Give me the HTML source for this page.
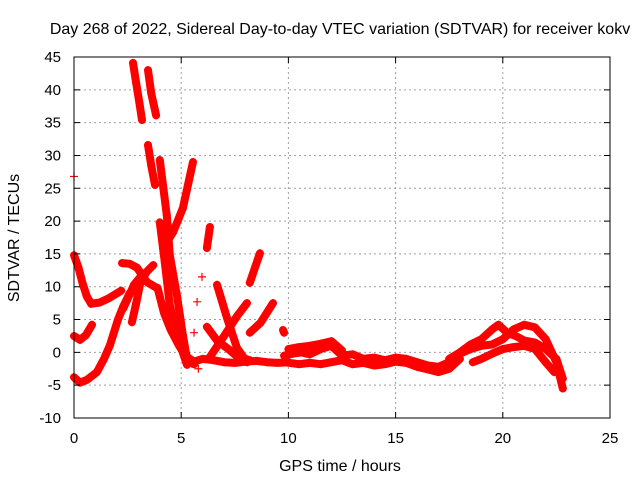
<!DOCTYPE html>
<html><head><meta charset="utf-8"><style>
body{margin:0;background:#fff;}
svg{display:block;font-family:"Liberation Sans",sans-serif;}
</style></head><body>
<svg id="chart" width="640" height="480" viewBox="0 0 640 480">
<rect width="640" height="480" fill="#fff"/>
<text x="340" y="34" font-size="16" text-anchor="middle">Day 268 of 2022, Sidereal Day-to-day VTEC variation (SDTVAR) for receiver kokv</text>
<text x="340" y="471" font-size="16" text-anchor="middle">GPS time / hours</text>
<text transform="translate(19,238) rotate(-90)" font-size="16" text-anchor="middle">SDTVAR / TECUs</text>
<g id="grid"></g><g id="marks"></g><g id="axes"></g>
</svg>
<script>
const xTicks=[0,5,10,15,20,25];
const yTicks=[-10,-5,0,5,10,15,20,25,30,35,40,45];
const aX=[0,0.2,0.4,0.6,0.8,1.2,1.6,2.0,2.2];
const aY=[14.8,13,10.5,8.5,7.4,7.6,8.2,9,9.4];
const bX=[0,0.28,0.55,0.84];
const bY=[2.5,1.9,2.6,4.2];
const cX=[0,0.28,0.6,1.07,1.4,1.68,2.05,2.3,2.6];
const cY=[-3.8,-4.6,-4.2,-3,-1,1.1,5,7,9];
const dX=[2.24,2.6,2.94,3.4,3.87];
const dY=[13.6,13.5,12.9,10.7,9.8];
const eX=[2.7,2.9,3.1,3.4,3.7];
const eY=[4.6,7.5,10.7,12.3,13.3];
const fX=[2.3,2.55,2.8,3.1];
const fY=[6.7,8.5,10.3,11.5];
const g1X=[2.75,2.9,3.05,3.17];
const g1Y=[44.1,41,38,35.4];
const g2X=[3.45,3.6,3.83];
const g2Y=[43,39.5,36.1];
const hX=[3.45,3.6,3.78];
const hY=[31.6,28.5,25.5];
const iX=[4.0,4.33,4.47,4.8,5.08,5.3,5.6];
const iY=[29.3,20.9,14.8,8.7,2.6,-1.5,-1.8];
const jX=[4.0,4.24,4.47,4.8,5.27];
const jY=[19.8,13.6,7.2,2.6,-1.9];
const j2X=[3.9,4.2,4.5,4.9,5.2,5.5];
const j2Y=[9.8,6,3.5,1,-0.5,-1.2];
const kX=[4.15,4.62,5.08,5.55];
const kY=[15.9,18.3,22,29];
const lX=[6.2,6.34];
const lY=[15.9,19.1];
const mX=[6.67,7.14,7.6,8.07];
const mY=[10.3,5.2,0.7,-1.5];
const nX=[6.2,6.67,7.2,7.6,8.2];
const nY=[3.9,1.8,0.5,-0.6,-1.2];
const oX=[6.34,7.0,7.6,8.07];
const oY=[-0.7,2.5,5.5,7.5];
const pX=[8.2,8.7,9.28];
const pY=[3,4.5,7.5];
const qX=[8.2,8.45,8.67];
const qY=[10.6,13,15.1];
const rX=[9.75,9.8];
const rY=[3.4,3];
const s1X=[5.5,6,6.5,7,7.5,8,8.5,9,9.5,10];
const s1Y=[-1.5,-1,-1.2,-1.5,-1.6,-1.4,-1.3,-1.5,-1.6,-1.5];
const s2X=[9.8,10.2,10.6,11,11.5,12,12.5,13,13.5,14,14.5,15,15.5,16,16.5,17,17.5];
const s2Y=[-0.5,-0.2,0,-0.3,0.5,1,-0.5,-0.3,-1,-0.8,-1.2,-0.8,-1,-1.5,-2,-2.2,-1.5];
const s3X=[9.8,10.5,11,11.5,12,12.5,13,13.5,14,14.5,15,15.5,16,16.5,17,17.5,18];
const s3Y=[-1.5,-1.8,-1.6,-1.8,-1.5,-1.2,-1.8,-1.6,-2,-1.8,-1.4,-1.6,-2.2,-2.6,-3,-2.5,-1];
const s4X=[10,10.5,11,11.5,12,12.5];
const s4Y=[0.5,0.8,1,1.3,1.7,0.3];
const r1X=[17.5,18,18.5,19,19.5,19.8,20.2,20.6,21,21.5,22,22.5,22.8];
const r1Y=[-1,0,1.2,2,3.5,4.2,3,2.5,1.8,1.5,0.5,-1,-4];
const r2X=[17.8,18.5,19,19.5,20,20.5,21,21.5,22,22.5,22.8];
const r2Y=[-0.5,0.5,1,1.2,2,3.5,4.2,3.8,2,-1.5,-5.5];
const r3X=[18.6,19,19.5,20,20.5,21,21.5,22,22.4];
const r3Y=[-1.5,-1,-0.2,0.5,0.8,1,0.5,-1.5,-3];
const singleX=[0,5.97,5.74,5.8,5.6];
const singleY=[26.8,11.5,7.7,-2.5,3];

const X0=74,X1=610,Y0=418,Y1=57,XMIN=0,XMAX=25,YMIN=-10,YMAX=45;
function sx(v){return X0+(v-XMIN)/(XMAX-XMIN)*(X1-X0);}
function sy(v){return Y0-(v-YMIN)/(YMAX-YMIN)*(Y0-Y1);}
const NS='http://www.w3.org/2000/svg';
function mk(t,a,p){const e=document.createElementNS(NS,t);for(const k in a)e.setAttribute(k,a[k]);p.appendChild(e);return e;}
const grid=document.getElementById('grid'),marks=document.getElementById('marks'),axes=document.getElementById('axes');
xTicks.forEach(t=>{
  const x=sx(t);
  if(t>XMIN&&t<XMAX){const g=mk('line',{x1:x,x2:x,y1:Y1,y2:Y0,stroke:'#a0a0a0','stroke-dasharray':'2,3'},grid);
  
  }
  const tk=mk('path',{d:`M${x},${Y0}v-6M${x},${Y1}v6`,stroke:'#000'},axes);
  
  
  const l=mk('text',{x:x,y:Y0+25,'font-size':15,'text-anchor':'middle'},axes);l.textContent=t;
  
  
});
yTicks.forEach(t=>{
  const y=sy(t);
  if(t>YMIN&&t<YMAX){const g=mk('line',{x1:X0,x2:X1,y1:y,y2:y,stroke:'#a0a0a0','stroke-dasharray':'2,3'},grid);
  
  }
  const tk=mk('path',{d:`M${X0},${y}h6M${X1},${y}h-6`,stroke:'#000'},axes);
  
  
  const l=mk('text',{x:X0-13,y:y+5,'font-size':15,'text-anchor':'end'},axes);l.textContent=t;
  
  
});
const fr=mk('rect',{x:X0,y:Y1,width:X1-X0,height:Y0-Y1,fill:'none',stroke:'#000'},axes);


const tracks=[[aX,aY],[bX,bY],[cX,cY],[dX,dY],[eX,eY],[fX,fY],[g1X,g1Y],[g2X,g2Y],[hX,hY],[iX,iY],[jX,jY],[j2X,j2Y],[kX,kY],[lX,lY],[mX,mY],[nX,nY],[oX,oY],[pX,pY],[qX,qY],[rX,rY],[s1X,s1Y],[s2X,s2Y],[s3X,s3Y],[s4X,s4Y],[r1X,r1Y],[r2X,r2Y],[r3X,r3Y]];
tracks.forEach(([xs,ys])=>{
  const d=xs.map((v,i)=>(i?'L':'M')+sx(v).toFixed(1)+','+sy(ys[i]).toFixed(1)).join('');
  const p=mk('path',{d:d,fill:'none',stroke:'#f00','stroke-width':8,'stroke-linejoin':'round','stroke-linecap':'round'},marks);
  
  
  xs.forEach((v,i)=>{
    const x=sx(v),y=sy(ys[i]);
    const m=mk('path',{d:`M${x-4},${y}h8M${x},${y-4}v8`,stroke:'#f00','stroke-width':1.2},marks);
    
    
  });
});
singleX.forEach((v,i)=>{
  const x=sx(v),y=sy(singleY[i]);
  const m=mk('path',{d:`M${x-4},${y}h8M${x},${y-4}v8`,stroke:'#f00','stroke-width':1.2},marks);
  
  
});
</script>
</body></html>
